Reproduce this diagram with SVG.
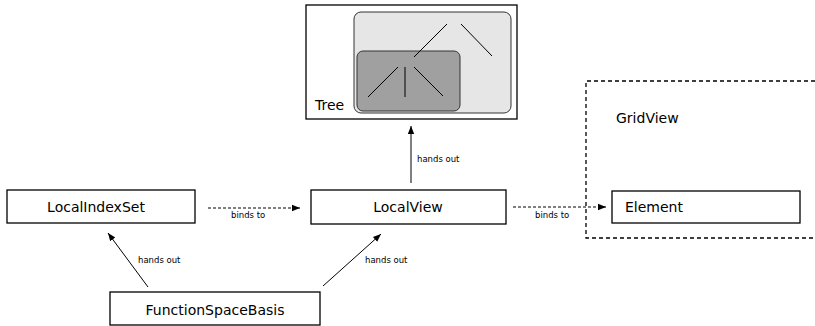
<svg xmlns="http://www.w3.org/2000/svg" width="815" height="326" viewBox="0 0 815 326">
<style>
.box{fill:#fff;stroke:#000;stroke-width:1.3}
.t{font-family:"DejaVu Sans",sans-serif;font-size:14px;fill:#000}
.l{font-family:"DejaVu Sans",sans-serif;font-size:8.5px;fill:#000}
.c{stroke:#000;stroke-width:1;fill:none}
.d{stroke-dasharray:3,2}
</style>
<defs>
<marker id="ah" viewBox="0 0 10 10" refX="10" refY="5" markerWidth="8" markerHeight="8" markerUnits="userSpaceOnUse" orient="auto"><path d="M0,1 L10,5 L0,9 Z" fill="#000"/></marker>
</defs>
<rect width="815" height="326" fill="#fff"/>
<g id="tree">
<rect class="box" x="306" y="5" width="211" height="114"/>
<rect x="354" y="12" width="157" height="101" rx="7" fill="#e6e6e6" stroke="#333" stroke-width="1"/>
<rect x="357" y="51" width="103" height="60" rx="6" fill="#a0a0a0" stroke="#333" stroke-width="1"/>
<g stroke="#000" stroke-width="1">
<line x1="447" y1="24" x2="414" y2="57"/>
<line x1="461" y1="24" x2="492" y2="56"/>
<line x1="398" y1="67" x2="368" y2="97"/>
<line x1="405" y1="67" x2="405" y2="97"/>
<line x1="414" y1="67" x2="443" y2="96"/>
</g>
<text class="t" x="315" y="110">Tree</text>
</g>
<g id="gridview">
<path d="M815,81 L586,81 L586,238 L815,238" fill="none" stroke="#000" stroke-width="1.3" stroke-dasharray="4,3"/>
<text class="t" x="616" y="123">GridView</text>
</g>
<g id="element">
<rect class="box" x="612" y="191" width="188" height="32"/>
<text class="t" x="625" y="212">Element</text>
</g>
<g id="localindexset">
<rect class="box" x="7" y="190" width="188" height="33"/>
<text class="t" x="96" y="212" text-anchor="middle">LocalIndexSet</text>
</g>
<g id="localview">
<rect class="box" x="311" y="190" width="195" height="34"/>
<text class="t" x="408" y="212" text-anchor="middle">LocalView</text>
</g>
<g id="functionspacebasis">
<rect class="box" x="110" y="292" width="210" height="33"/>
<text class="t" x="215" y="315" text-anchor="middle">FunctionSpaceBasis</text>
</g>
<g id="connectors">
<line class="c d" x1="208" y1="208" x2="300" y2="208" marker-end="url(#ah)"/>
<text class="l" x="231" y="218">binds to</text>
<line class="c d" x1="513" y1="207" x2="606" y2="207" marker-end="url(#ah)"/>
<text class="l" x="535" y="218">binds to</text>
<line class="c" x1="411" y1="183" x2="411" y2="126" marker-end="url(#ah)"/>
<text class="l" x="417" y="162">hands out</text>
<line class="c" x1="148" y1="287" x2="108" y2="233" marker-end="url(#ah)"/>
<text class="l" x="138" y="263">hands out</text>
<line class="c" x1="323" y1="286" x2="381" y2="234" marker-end="url(#ah)"/>
<text class="l" x="365" y="263">hands out</text>
</g>
</svg>
